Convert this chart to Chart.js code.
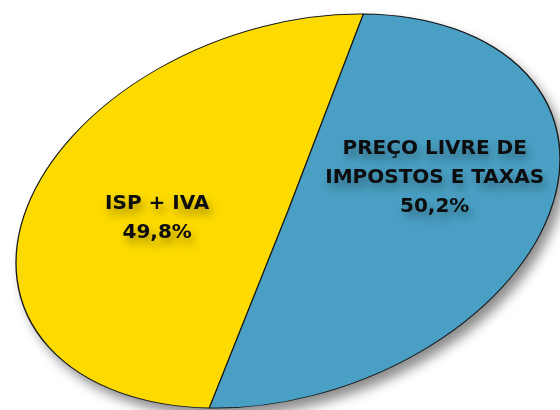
<!DOCTYPE html>
<html lang="pt">
<head>
  <meta charset="UTF-8" />
  <title>Composição do preço</title>
  <style>
    html, body {
      margin: 0;
      padding: 0;
      background: #ffffff;
      overflow: hidden;
    }
    canvas {
      display: block;
    }
  </style>
</head>
<body>
  <canvas id="chart" width="560" height="410"></canvas>

  <script src="https://cdn.jsdelivr.net/npm/chart.js"></script>
  <script>
    // data
    const categories = [['ISP + IVA'], ['PREÇO LIVRE DE', 'IMPOSTOS E TAXAS']];
    const shares = [49.8, 50.2];
    const sliceColors = ['#fddb00', '#4aa0c4'];

    const FONT = "'DejaVu Sans', sans-serif";

    // the pie is drawn by Chart.js and then squashed / tilted into the ellipse
    const ellipse = {
      cx: 288,
      cy: 211,
      rx: 281,
      ry: 184,
      tilt: -19.4 * Math.PI / 180
    };

    // where each label block sits, in the un-squashed pie (angle in deg, share of radius)
    const labelSpots = [
      { angle: 204, dist: 0.49 },
      { angle: 10, dist: 0.54 }
    ];

    function applyEllipse(ctx, arc) {
      const r = arc.outerRadius;
      ctx.translate(ellipse.cx, ellipse.cy);
      ctx.rotate(ellipse.tilt);
      ctx.scale(ellipse.rx / r, ellipse.ry / r);
      ctx.translate(-arc.x, -arc.y);
    }

    function toScreen(arc, angleDeg, dist) {
      const a = angleDeg * Math.PI / 180;
      const ux = Math.cos(a) * dist * ellipse.rx;
      const uy = Math.sin(a) * dist * ellipse.ry;
      const c = Math.cos(ellipse.tilt), s = Math.sin(ellipse.tilt);
      return {
        x: ellipse.cx + ux * c - uy * s,
        y: ellipse.cy + ux * s + uy * c
      };
    }

    const ellipsePlugin = {
      id: 'ellipsePie',
      beforeDatasetsDraw(chart) {
        const ctx = chart.ctx;
        const arc = chart.getDatasetMeta(0).data[0];
        ctx.save();
        applyEllipse(ctx, arc);
        // soft drop shadow under the whole pie
        ctx.save();
        ctx.shadowColor = 'rgba(0, 0, 0, 0.45)';
        ctx.shadowBlur = 12;
        ctx.shadowOffsetX = 6;
        ctx.shadowOffsetY = 8;
        ctx.beginPath();
        ctx.arc(arc.x, arc.y, arc.outerRadius, 0, Math.PI * 2);
        ctx.fillStyle = '#4aa0c4';
        ctx.fill();
        ctx.restore();
      },
      afterDatasetsDraw(chart) {
        chart.ctx.restore();
      },
      afterDraw(chart) {
        const ctx = chart.ctx;
        const meta = chart.getDatasetMeta(0);
        ctx.save();
        ctx.font = 'bold 20px ' + FONT;
        ctx.textAlign = 'center';
        ctx.textBaseline = 'middle';
        ctx.fillStyle = '#0d0d0d';
        ctx.shadowColor = 'rgba(0, 0, 0, 0.35)';
        ctx.shadowBlur = 10;
        ctx.shadowOffsetX = 3;
        ctx.shadowOffsetY = 6;
        const lineH = 29;
        meta.data.forEach((arc, i) => {
          const spot = labelSpots[i];
          const p = toScreen(arc, spot.angle, spot.dist);
          const lines = categories[i].concat([shares[i].toFixed(1).replace('.', ',') + '%']);
          const top = p.y - (lines.length - 1) * lineH / 2;
          lines.forEach((t, k) => ctx.fillText(t, p.x, top + k * lineH));
        });
        ctx.restore();
      }
    };

    new Chart(document.getElementById('chart'), {
      type: 'pie',
      data: {
        labels: categories,
        datasets: [{
          data: shares,
          backgroundColor: sliceColors,
          borderColor: '#1a1a1a',
          borderWidth: 1,
          hoverOffset: 0
        }]
      },
      options: {
        responsive: false,
        animation: false,
        rotation: 209.8,
        layout: { padding: 0 },
        plugins: {
          legend: { display: false },
          tooltip: { enabled: false }
        }
      },
      plugins: [ellipsePlugin]
    });
  </script>
</body>
</html>
